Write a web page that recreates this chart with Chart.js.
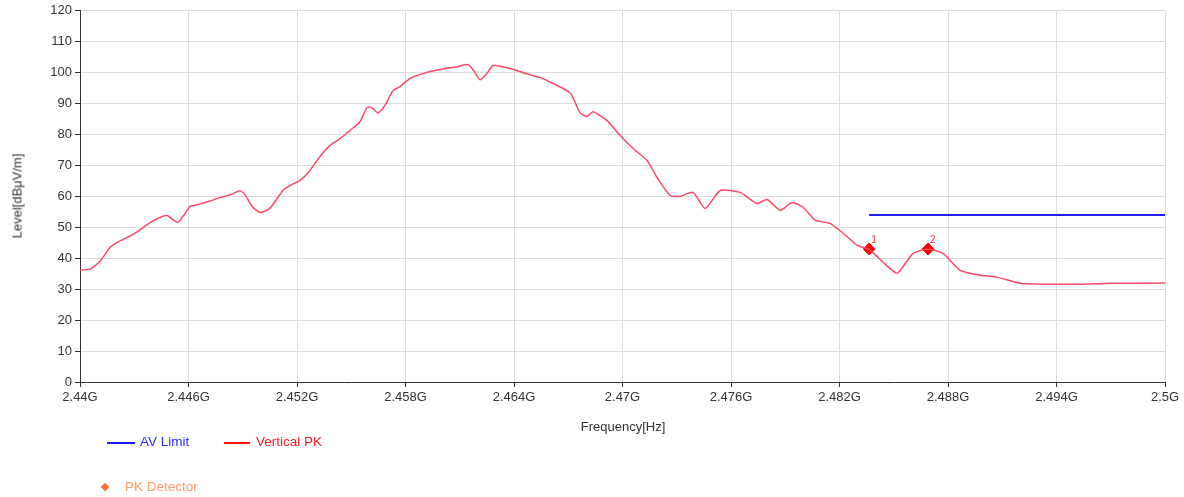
<!DOCTYPE html>
<html>
<head>
<meta charset="utf-8">
<script src="https://cdn.jsdelivr.net/npm/chart.js@4/dist/chart.umd.min.js"></script>
<style>
  body { margin: 0; background: #fff; font-family: "Liberation Sans", Arial, sans-serif; }
  #wrap { position: relative; width: 1184px; height: 497px; }
  #chart { position: absolute; left: 0; top: 0; }
  .txt { position: absolute; font-size: 13px; color: #333; white-space: nowrap; }
  #ytitle { left: 17px; top: 196px; transform: translate(-50%, -50%) rotate(-90deg); }
  #xtitle { left: 623px; top: 426px; transform: translate(-50%, -50%); }
  .sw { position: absolute; height: 2px; }
  .dia { position: absolute; width: 6px; height: 6px; background: #ff7030; transform: rotate(45deg); }
</style>
</head>
<body>
<div id="wrap">
  <canvas id="chart" width="1184" height="497"></canvas>
  <div class="txt" id="ytitle">Level[dBμV/m]</div>
  <div class="txt" id="xtitle">Frequency[Hz]</div>
  <div class="sw" style="left:107px;top:442px;width:28px;background:#1a1aff"></div>
  <div class="txt" style="left:140px;top:434px;color:#2a2aff;font-size:13.5px">AV Limit</div>
  <div class="sw" style="left:224px;top:442px;width:26px;background:#ff1010"></div>
  <div class="txt" style="left:256px;top:434px;color:#ff1a1a;font-size:13.5px">Vertical PK</div>
  <div class="dia" style="left:102px;top:484px"></div>
  <div class="txt" style="left:125px;top:479px;color:#ff9a6a;font-size:13.5px">PK Detector</div>
</div>
<script>
// -----------------------------
//  DATOS
// -----------------------------
const freqMHz = [
  2440.00, 2440.55, 2441.11, 2441.66, 2442.21, 2442.77, 2443.32, 2443.87, 2444.42, 2444.81,
  2445.42, 2446.08, 2446.64, 2447.19, 2447.74, 2448.30, 2448.85, 2449.13, 2449.51, 2449.96,
  2450.51, 2451.23, 2451.61, 2452.17, 2452.72, 2453.27, 2453.83, 2454.38, 2454.93, 2455.49,
  2455.87, 2456.15, 2456.48, 2456.87, 2457.31, 2457.70, 2458.25, 2458.97, 2459.91, 2460.85,
  2461.46, 2461.79, 2462.12, 2462.51, 2462.84, 2463.62, 2464.50, 2465.44, 2466.16, 2467.10,
  2467.65, 2468.04, 2468.37, 2469.15, 2469.87, 2470.59, 2471.36, 2471.91, 2472.63, 2473.19,
  2473.90, 2474.57, 2475.40, 2476.50, 2477.44, 2478.00, 2478.72, 2479.38, 2479.99, 2480.65,
  2481.48, 2482.20, 2482.98, 2483.64, 2484.41, 2485.19, 2486.07, 2486.90, 2487.73, 2488.67,
  2489.78, 2490.72, 2491.99, 2493.48, 2495.31, 2497.13, 2500.00
];
const verticalPK = [
  36.1, 36.5, 39.0, 43.5, 45.6, 47.2, 49.2, 51.5, 53.2, 53.8,
  51.6, 56.7, 57.5, 58.5, 59.6, 60.5, 61.8, 60.5, 56.8, 54.8,
  56.2, 62.0, 63.5, 65.2, 68.4, 72.9, 76.5, 78.7, 81.3, 84.2,
  88.7, 88.6, 87.0, 89.5, 94.2, 95.5, 98.1, 99.7, 101.0, 101.9,
  102.6, 100.5, 97.7, 99.8, 102.3, 101.6, 100.0, 98.4, 96.5, 93.5,
  87.1, 85.8, 87.4, 84.5, 79.7, 75.5, 71.6, 66.1, 60.3, 60.0,
  61.3, 56.1, 61.9, 61.3, 57.7, 59.0, 55.5, 58.0, 56.5, 52.3,
  51.3, 48.1, 44.2, 42.9, 38.7, 35.2, 41.6, 42.9, 41.6, 36.1,
  34.5, 33.9, 31.9, 31.6, 31.6, 31.9, 32.0
];

const avLimitFreq = [2483.64, 2500.0];
const avLimitLevel = [54, 54];

const markerFreq = [2483.64, 2486.90];
const markerLevel = [43.0, 43.0];
const markerLabels = ["1", "2"];

const xTicksMHz = [2440, 2446, 2452, 2458, 2464, 2470, 2476, 2482, 2488, 2494, 2500];

// -----------------------------
//  ETIQUETAS DE MARCADORES
// -----------------------------
const markerText = {
  id: "markerText",
  afterDatasetsDraw(chart) {
    const meta = chart.getDatasetMeta(2);
    const ctx = chart.ctx;
    ctx.save();
    ctx.fillStyle = "#ff3030";
    ctx.font = "10px 'Liberation Sans', Arial";
    ctx.textAlign = "left";
    meta.data.forEach((pt, i) => {
      ctx.fillText(markerLabels[i], pt.x + 2, pt.y - 6);
    });
    ctx.restore();
  }
};

const tickFont = { family: "'Liberation Sans', Arial", size: 13 };
const ctx = document.getElementById("chart").getContext("2d");

new Chart(ctx, {
  type: "line",
  data: {
    datasets: [
      {
        label: "AV Limit",
        data: avLimitFreq.map((f, i) => ({ x: f, y: avLimitLevel[i] })),
        borderColor: "#2020ff",
        borderWidth: 2,
        pointRadius: 0
      },
      {
        label: "Vertical PK",
        data: freqMHz.map((f, i) => ({ x: f, y: verticalPK[i] })),
        borderColor: "#ff4868",
        borderWidth: 1.5,
        pointRadius: 0,
        tension: 0.2
      },
      {
        label: "PK Detector",
        data: markerFreq.map((f, i) => ({ x: f, y: markerLevel[i] })),
        showLine: false,
        pointStyle: "rectRot",
        pointRadius: 6,
        backgroundColor: "#ff0000",
        borderColor: "#ff0000"
      }
    ]
  },
  options: {
    responsive: false,
    animation: false,
    layout: { padding: { top: 10, right: 19 } },
    plugins: { legend: { display: false }, tooltip: { enabled: false } },
    scales: {
      x: {
        type: "linear",
        min: 2440,
        max: 2500,
        afterBuildTicks: scale => { scale.ticks = xTicksMHz.map(v => ({ value: v })); },
        afterFit: scale => { scale.height = 115; },
        ticks: {
          color: "#333",
          font: tickFont,
          padding: 3,
          maxRotation: 0,
          callback: v => (v / 1000) + "G"
        },
        grid: { color: "#dcdcdc", tickColor: "#333", tickLength: 5 },
        border: { color: "#333", width: 1 }
      },
      y: {
        min: 0,
        max: 120,
        afterFit: scale => { scale.width = 80; },
        ticks: {
          stepSize: 10,
          color: "#333",
          font: tickFont,
          padding: 3
        },
        grid: { color: "#dcdcdc", tickColor: "#333", tickLength: 5 },
        border: { color: "#333", width: 1 }
      }
    }
  },
  plugins: [markerText]
});
</script>
</body>
</html>
